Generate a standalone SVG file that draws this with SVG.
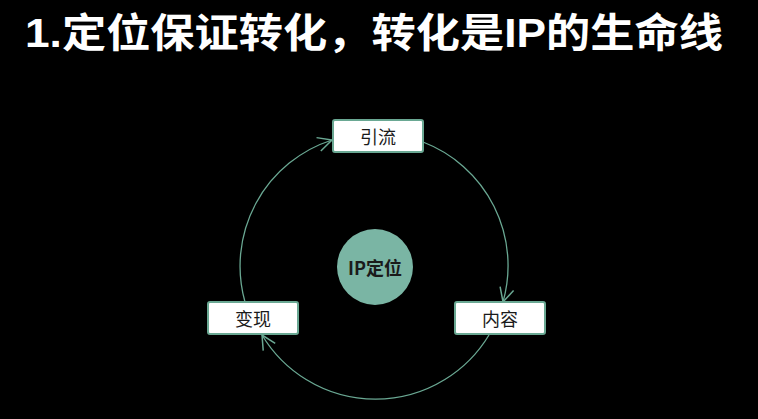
<svg xmlns="http://www.w3.org/2000/svg" width="758" height="419" viewBox="0 0 758 419">
<defs>
<style>
.title{font-family:"Liberation Sans","Noto Sans CJK SC",sans-serif;font-size:40px;font-weight:bold;fill:#ffffff}
.box{fill:#ffffff;stroke:#6aa893;stroke-width:2}
.lbl{font-family:"Noto Sans CJK SC",sans-serif;font-size:18px;fill:#1a1a1a;text-anchor:middle;dominant-baseline:central}
.conn{fill:none;stroke:#6aa893;stroke-width:1.3}
</style>
<marker id="arr" viewBox="0 0 16 16" refX="15" refY="8" markerWidth="16" markerHeight="16" markerUnits="userSpaceOnUse" orient="auto">
<path d="M1,1 L15,8 L1,15" fill="none" stroke="#6aa893" stroke-width="1.5"/>
</marker>
</defs>
<rect width="758" height="419" fill="#000000"/>
<text class="title" x="25" y="47" textLength="698" lengthAdjust="spacingAndGlyphs">1.定位保证转化，转化是IP的生命线</text>
<g id="connectors">
<path class="conn" d="M245,302 A132.5,132.5 0 0 1 332,140" marker-end="url(#arr)"/>
<path class="conn" d="M423,142 A132.5,132.5 0 0 1 503,302" marker-end="url(#arr)"/>
<path class="conn" d="M489,335 A132.5,132.5 0 0 1 262,335" marker-end="url(#arr)"/>
</g>
<g id="center">
<circle cx="375" cy="267" r="38" fill="#7ab5a4"/>
<text class="lbl" x="375" y="267" style="font-weight:bold">IP定位</text>
</g>
<g id="yinliu">
<rect class="box" x="333" y="120" width="90" height="32" rx="2"/>
<text class="lbl" x="378" y="136">引流</text>
</g>
<g id="neirong">
<rect class="box" x="455" y="302" width="90" height="32" rx="2"/>
<text class="lbl" x="500" y="318">内容</text>
</g>
<g id="bianxian">
<rect class="box" x="208" y="302" width="90" height="32" rx="2"/>
<text class="lbl" x="253" y="318">变现</text>
</g>
</svg>
